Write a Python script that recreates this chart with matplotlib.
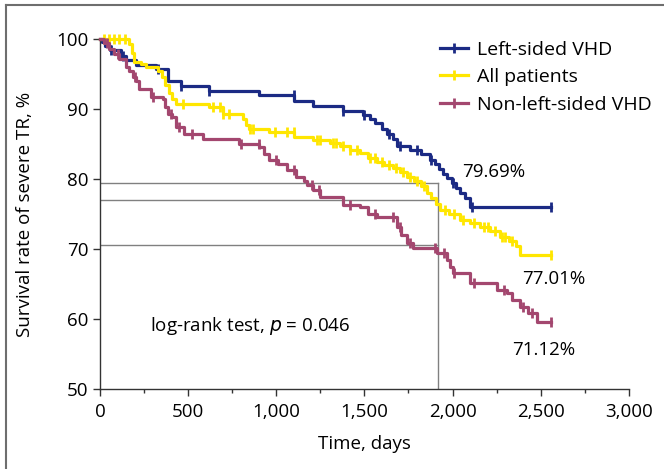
import numpy as np
import matplotlib.pyplot as plt
from matplotlib.lines import Line2D
from matplotlib.ticker import FuncFormatter, MultipleLocator

plt.rcParams['font.family'] = ['Open Sans', 'DejaVu Sans']

# Kaplan-Meier steps (days, survival %)
left_t = [0, 10, 30, 55, 119, 147, 204, 318, 384, 459, 620, 904, 1102, 1208, 1378,
          1492, 1530, 1560, 1600, 1630, 1660, 1685, 1758, 1820, 1872, 1900, 1925,
          1945, 1968, 1995, 2020, 2045, 2070, 2099, 2560]
left_s = [100, 99.6, 99.0, 98.5, 97.7, 97.1, 96.3, 95.8, 94.1, 93.4, 92.7, 92.0, 91.2,
          90.5, 89.7, 89.2, 88.6, 88.0, 87.2, 86.5, 85.8, 84.8, 84.2, 83.6, 82.8, 82.2,
          81.5, 80.8, 80.2, 79.5, 78.8, 78.0, 77.3, 76.1, 76.1]
left_cens = [60, 130, 330, 460, 620, 1100, 1380, 1500, 1640, 1700, 1800, 1880, 2000,
             2110, 2560]

all_t = [0, 166, 180, 195, 230, 261, 327, 350, 370, 390, 410, 431, 620, 696, 809, 828,
         847, 960, 1102, 1208, 1305, 1360, 1420, 1475, 1520, 1571, 1610, 1662, 1700,
         1741, 1780, 1820, 1855, 1880, 1905, 1929, 1980, 2042, 2100, 2155, 2210, 2269,
         2320, 2360, 2382, 2560]
all_s = [100, 99.4, 98.0, 96.8, 96.5, 96.1, 95.5, 94.6, 93.5, 92.4, 91.5, 90.7, 90.4,
         89.3, 88.6, 87.8, 87.2, 86.8, 86.1, 85.6, 85.2, 84.7, 84.2, 83.8, 83.0, 82.5,
         82.0, 81.6, 81.0, 80.3, 79.7, 79.0, 78.0, 77.3, 76.5, 75.6, 75.0, 74.2, 73.7,
         73.2, 72.6, 71.8, 71.2, 70.5, 69.1, 69.1]
all_cens = [20, 50, 80, 110, 140, 470, 640, 680, 700, 730, 850, 870, 990, 1060, 1100,
            1230, 1250, 1320, 1340, 1380, 1420, 1460, 1530, 1560, 1600, 1640, 1680,
            1720, 1760, 1800, 1840, 1960, 2010, 2060, 2120, 2180, 2200, 2240, 2280,
            2300, 2340, 2560]

non_t = [0, 20, 53, 80, 110, 147, 165, 185, 205, 223, 289, 355, 370, 384, 410, 431,
         478, 582, 790, 904, 930, 960, 1010, 1060, 1112, 1160, 1174, 1210, 1248, 1378,
         1475, 1520, 1571, 1685, 1710, 1741, 1775, 1912, 1966, 1985, 2004, 2099, 2250,
         2307, 2340, 2382, 2430, 2477, 2560]
non_s = [100, 99.5, 98.6, 97.9, 97.2, 96.1, 95.5, 94.6, 94.1, 92.9, 91.8, 91.5, 90.3,
         89.3, 88.9, 87.5, 86.5, 85.8, 85.1, 84.6, 83.6, 82.8, 82.2, 81.3, 80.3, 79.7,
         79.2, 78.5, 77.5, 76.3, 76.1, 75.0, 74.6, 73.2, 72.0, 70.9, 70.2, 69.5, 68.5,
         67.5, 66.6, 65.2, 64.2, 63.7, 62.7, 61.7, 60.9, 59.6, 59.6]
non_cens = [40, 100, 200, 300, 400, 450, 520, 800, 900, 1000, 1100, 1200, 1240, 1420,
            1560, 1660, 1700, 1760, 1900, 1950, 2010, 2120, 2290, 2400, 2450, 2560]

ref_levels = [79.45, 77.0, 70.65]
ref_day = 1915

groups = [
    ('Left-sided VHD', left_t, left_s, left_cens, '#1b2a84'),
    ('All patients', all_t, all_s, all_cens, '#ffe600'),
    ('Non-left-sided VHD', non_t, non_s, non_cens, '#a3476f'),
]

fs = 13.5

fig = plt.figure(figsize=(6.64, 4.69), dpi=100)
ax = fig.add_axes([0.1506, 0.1706, 0.7964, 0.7452])

# reference lines
for lv in ref_levels:
    ax.plot([0, ref_day], [lv, lv], color='#808080', lw=1, zorder=1)
ax.plot([ref_day, ref_day], [50, ref_levels[0]], color='#808080', lw=1, zorder=1)

handles = []
for name, t, s, cens, col in groups:
    t = np.array(t)
    s = np.array(s)
    ax.step(t, s, where='post', color=col, lw=2.3, zorder=3, clip_on=False)
    c = np.array(cens)
    idx = np.searchsorted(t, c, side='right') - 1
    ax.plot(c, s[idx], ls='none', marker='|', ms=7, mew=2, color=col, zorder=3,
            clip_on=False)
    handles.append(Line2D([], [], color=col, lw=2.3, marker='|', ms=7, mew=2))

ax.legend(handles, [g[0] for g in groups], loc='upper left', frameon=False,
          fontsize=14, handlelength=1.45, handletextpad=0.45, labelspacing=0.48,
          borderpad=0, borderaxespad=0, bbox_to_anchor=(0.643, 0.996))

ax.text(2052, 81.0, '79.69%', fontsize=fs, va='center')
ax.text(2392, 65.7, '77.01%', fontsize=fs, va='center')
ax.text(2336, 55.6, '71.12%', fontsize=fs, va='center')
ax.text(284, 59.0, 'log-rank test, $p$ = 0.046', fontsize=fs, va='center')

ax.set_xlim(0, 3000)
ax.set_ylim(50, 100)
ax.xaxis.set_major_locator(MultipleLocator(500))
ax.xaxis.set_minor_locator(MultipleLocator(250))
ax.yaxis.set_major_locator(MultipleLocator(10))
ax.xaxis.set_major_formatter(FuncFormatter(lambda v, p: f'{int(v):,}'))
ax.tick_params(axis='both', which='major', direction='out', length=5, width=1,
               labelsize=fs, color='#333333')
ax.tick_params(axis='x', which='major', pad=5)
ax.tick_params(axis='x', which='minor', direction='out', length=3, width=1,
               color='#333333')
for sp in ['top', 'right']:
    ax.spines[sp].set_visible(False)
for sp in ['left', 'bottom']:
    ax.spines[sp].set_linewidth(1)
    ax.spines[sp].set_color('#333333')

ax.set_xlabel('Time, days', fontsize=fs, labelpad=10)
ax.set_ylabel('Survival rate of severe TR, %', fontsize=fs, labelpad=16)

# outer frame of the panel
fig.add_artist(Line2D([6 / 664, 1], [1 - 5 / 469, 1 - 5 / 469], color='#6e6e6e', lw=1.5))
fig.add_artist(Line2D([6 / 664, 6 / 664], [0, 1 - 5 / 469], color='#6e6e6e', lw=1.5))

fig.savefig('out.png', dpi=100)
